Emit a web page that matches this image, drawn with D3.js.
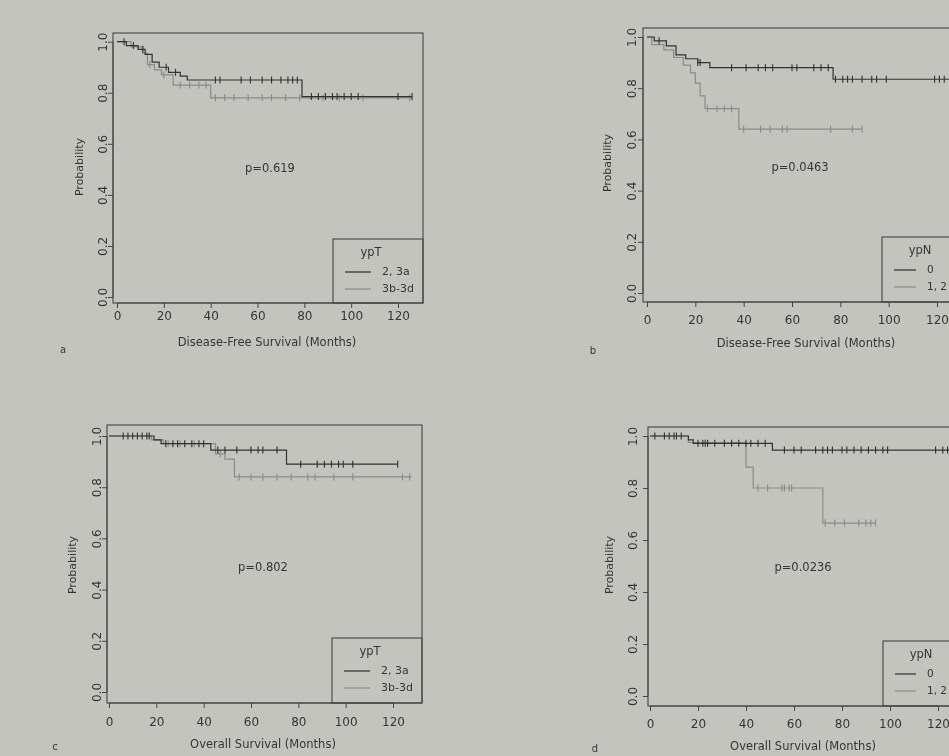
<!DOCTYPE html>
<html><head><meta charset="utf-8">
<script src="https://cdn.jsdelivr.net/npm/d3@7"></script>
<style>
html,body{margin:0;padding:0;background:#c4c4be;}
svg{display:block;}
text{font-family:"DejaVu Sans","Liberation Sans",Arial,sans-serif;fill:#353535;}
</style></head>
<body>
<svg id="chart" width="949" height="756"></svg>
<script>
// ---------- data ----------
const xTicks = [0, 20, 40, 60, 80, 100, 120];
const yTicks = [0, 0.2, 0.4, 0.6, 0.8, 1.0];
const panelLetters = ["a", "b", "c", "d"];
const xTitles = ["Disease-Free Survival (Months)", "Disease-Free Survival (Months)",
                 "Overall Survival (Months)", "Overall Survival (Months)"];
const yTitle = "Probability";
const pValues = ["p=0.619", "p=0.0463", "p=0.802", "p=0.0236"];
const legendTitles = ["ypT", "ypN", "ypT", "ypN"];
const ypTGroups = ["2, 3a", "3b-3d"];
const ypNGroups = ["0", "1, 2"];

// panel a (DFS by ypT)
const aG1Times = [0, 4, 9, 12, 15, 18, 22, 27, 30, 79];
const aG1Surv  = [1, 0.985, 0.97, 0.95, 0.92, 0.90, 0.88, 0.865, 0.85, 0.785];
const aG1End = 126;
const aG1Censor = [3, 7, 11, 21, 25, 42, 44, 53, 57, 62, 66, 70, 73, 75, 77, 83, 86, 89, 92, 94, 97, 100, 103, 120, 126];
const aG2Times = [0, 6, 11, 13, 16, 19, 24, 40];
const aG2Surv  = [1, 0.98, 0.955, 0.91, 0.89, 0.87, 0.83, 0.78];
const aG2End = 126;
const aG2Censor = [14, 20, 27, 31, 35, 38, 42, 46, 50, 56, 62, 66, 72, 78, 88, 95, 105, 125];

// panel b (DFS by ypN)
const bG1Times = [0, 3, 8, 12, 16, 21, 26, 77];
const bG1Surv  = [1, 0.985, 0.965, 0.93, 0.915, 0.90, 0.88, 0.835];
const bG1End = 132;
const bG1Censor = [5, 21, 22, 35, 41, 46, 49, 52, 60, 62, 69, 72, 75, 78, 81, 83, 85, 89, 93, 95, 99, 119, 121, 123];
const bG2Times = [0, 2, 7, 11, 15, 18, 20, 22, 24, 38];
const bG2Surv  = [1, 0.97, 0.95, 0.92, 0.89, 0.86, 0.82, 0.77, 0.72, 0.64];
const bG2End = 89;
const bG2Censor = [25, 29, 32, 35, 40, 47, 51, 56, 58, 76, 85, 89];

// panel c (OS by ypT)
const cG1Times = [0, 19, 22, 43, 75];
const cG1Surv  = [1, 0.985, 0.97, 0.945, 0.89];
const cG1End = 122;
const cG1Censor = [6, 8, 10, 12, 14, 16, 17, 24, 27, 29, 32, 35, 38, 40, 46, 49, 54, 60, 63, 65, 71, 81, 88, 91, 94, 97, 99, 103, 122];
const cG2Times = [0, 18, 23, 45, 49, 53];
const cG2Surv  = [1, 0.985, 0.97, 0.93, 0.91, 0.84];
const cG2End = 128;
const cG2Censor = [25, 30, 36, 47, 55, 60, 65, 71, 77, 84, 87, 95, 103, 124, 127];

// panel d (OS by ypN)
const dG1Times = [0, 16, 18, 51];
const dG1Surv  = [1, 0.985, 0.972, 0.946];
const dG1End = 132;
const dG1Censor = [2, 6, 8, 10, 11, 13, 20, 22, 23, 24, 27, 31, 34, 37, 40, 42, 45, 48, 56, 60, 63, 69, 72, 74, 76, 80, 82, 85, 88, 91, 94, 97, 99, 119, 122, 124];
const dG2Times = [0, 16, 40, 43, 72];
const dG2Surv  = [1, 0.975, 0.88, 0.80, 0.665];
const dG2End = 94;
const dG2Censor = [45, 49, 55, 56, 58, 59, 73, 77, 81, 87, 90, 92, 94];

const panelSeries = [
  [{t: aG1Times, s: aG1Surv, end: aG1End, c: aG1Censor}, {t: aG2Times, s: aG2Surv, end: aG2End, c: aG2Censor}],
  [{t: bG1Times, s: bG1Surv, end: bG1End, c: bG1Censor}, {t: bG2Times, s: bG2Surv, end: bG2End, c: bG2Censor}],
  [{t: cG1Times, s: cG1Surv, end: cG1End, c: cG1Censor}, {t: cG2Times, s: cG2Surv, end: cG2End, c: cG2Censor}],
  [{t: dG1Times, s: dG1Surv, end: dG1End, c: dG1Censor}, {t: dG2Times, s: dG2Surv, end: dG2End, c: dG2Censor}]
];
const panelGroups = [ypTGroups, ypNGroups, ypTGroups, ypNGroups];

// ---------- layout ----------
const layouts = [
  {xr: [117, 398], yr: [297, 41.7], frame: [113, 33, 423, 303], ytl: 103, xtl: 316, ylab: 80, ylabY: 167, xlabX: 267, xlabY: 342, letter: [63, 350], p: [270, 168], leg: [333, 239, 423], legTx: 49, legFs: 11},
  {xr: [647, 937], yr: [293, 37], frame: [643, 28, 970, 302], ytl: 632, xtl: 320, ylab: 608, ylabY: 163, xlabX: 806, xlabY: 343, letter: [593, 351], p: [800, 167], leg: [882, 237, 970], legTx: 45, legFs: 10.5},
  {xr: [109, 393], yr: [692, 436], frame: [107, 425, 422, 703], ytl: 97, xtl: 722, ylab: 73, ylabY: 565, xlabX: 263, xlabY: 744, letter: [55, 747], p: [263, 567], leg: [332, 638, 422], legTx: 49, legFs: 11},
  {xr: [650, 938], yr: [696, 436], frame: [648, 427, 970, 706], ytl: 633, xtl: 724, ylab: 610, ylabY: 565, xlabX: 803, xlabY: 746, letter: [595, 749], p: [803, 567], leg: [883, 641, 970], legTx: 44, legFs: 10.5}
];
const lineColors = ["#303030", "#8a8a88"];
const fsTick = 12, fsText = 11.5;

const svg = d3.select("#chart");
svg.append("defs").append("filter").attr("id", "soft")
  .append("feGaussianBlur").attr("stdDeviation", 0.55);
const root = svg.append("g").attr("filter", "url(#soft)");

function survAt(ser, t) {
  const i = d3.bisectRight(ser.t, t) - 1;
  return ser.s[Math.max(0, i)];
}

layouts.forEach((L, pi) => {
  const g = root.append("g");
  const x = d3.scaleLinear().domain([0, 120]).range(L.xr);
  const y = d3.scaleLinear().domain([0, 1]).range(L.yr);
  const [fl, ft, fr, fb] = L.frame;

  // frame
  g.append("rect").attr("x", fl).attr("y", ft).attr("width", fr - fl).attr("height", fb - ft)
    .attr("fill", "none").attr("stroke", "#454545").attr("stroke-width", 1.1);

  // y axis
  const ya = g.append("g").attr("transform", `translate(${fl},0)`)
    .call(d3.axisLeft(y).tickValues(yTicks).tickSize(5).tickFormat(d3.format(".1f")));
  ya.attr("font-family", null).attr("font-size", null);
  ya.select(".domain").attr("d", `M-0,${y(0)}V${y(1)}`).attr("stroke", "#454545");
  ya.selectAll(".tick line").attr("stroke", "#454545");
  ya.selectAll(".tick text").attr("x", 0).attr("dy", 0)
    .attr("transform", `translate(${L.ytl - fl},0) rotate(-90)`)
    .attr("text-anchor", "middle").attr("dominant-baseline", "middle")
    .style("font-size", fsTick + "px").style("fill", "#353535");

  // x axis
  const xa = g.append("g").attr("transform", `translate(0,${fb})`)
    .call(d3.axisBottom(x).tickValues(xTicks).tickSize(5).tickFormat(d3.format("d")));
  xa.attr("font-family", null).attr("font-size", null);
  xa.select(".domain").attr("d", `M${x(0)},0H${x(120)}`).attr("stroke", "#454545");
  xa.selectAll(".tick line").attr("stroke", "#454545");
  xa.selectAll(".tick text").attr("y", L.xtl - fb).attr("dy", 0)
    .attr("dominant-baseline", "middle")
    .style("font-size", fsTick + "px").style("fill", "#353535");

  // axis titles
  g.append("text").attr("transform", `translate(${L.ylab},${L.ylabY}) rotate(-90)`)
    .attr("text-anchor", "middle").attr("dominant-baseline", "middle")
    .style("font-size", (fsText - 0.5) + "px").text(yTitle);
  g.append("text").attr("x", L.xlabX).attr("y", L.xlabY)
    .attr("text-anchor", "middle").attr("dominant-baseline", "middle")
    .style("font-size", fsText + "px").text(xTitles[pi]);
  g.append("text").attr("x", L.letter[0]).attr("y", L.letter[1])
    .attr("text-anchor", "middle").attr("dominant-baseline", "middle")
    .style("font-size", "10px").text(panelLetters[pi]);

  // p value
  g.append("text").attr("x", L.p[0]).attr("y", L.p[1])
    .attr("text-anchor", "middle").attr("dominant-baseline", "middle")
    .style("font-size", fsText + "px").text(pValues[pi]);

  // curves (grey first, black on top)
  const line = d3.line().x(d => x(d[0])).y(d => y(d[1])).curve(d3.curveStepAfter);
  [1, 0].forEach(si => {
    const ser = panelSeries[pi][si];
    const pts = ser.t.map((t, i) => [t, ser.s[i]]);
    pts.push([ser.end, ser.s[ser.s.length - 1]]);
    g.append("path").attr("d", line(pts)).attr("fill", "none")
      .attr("stroke", lineColors[si]).attr("stroke-width", 1.2);
    g.selectAll(null).data(ser.c).enter().append("line")
      .attr("x1", d => x(d)).attr("x2", d => x(d))
      .attr("y1", d => y(survAt(ser, d)) - 3.5).attr("y2", d => y(survAt(ser, d)) + 3.5)
      .attr("stroke", lineColors[si]).attr("stroke-width", 1.1);
  });

  // legend
  const [lx, ly, lr] = L.leg;
  g.append("rect").attr("x", lx).attr("y", ly).attr("width", lr - lx).attr("height", fb - ly)
    .attr("fill", "none").attr("stroke", "#454545").attr("stroke-width", 1.1);
  g.append("text").attr("x", lx + 38).attr("y", ly + 13)
    .attr("text-anchor", "middle").attr("dominant-baseline", "middle")
    .style("font-size", fsText + "px").text(legendTitles[pi]);
  panelGroups[pi].forEach((lab, k) => {
    const yy = ly + 33 + k * 17;
    g.append("line").attr("x1", lx + 12).attr("x2", lx + L.legTx - 11).attr("y1", yy).attr("y2", yy)
      .attr("stroke", lineColors[k]).attr("stroke-width", 1.2);
    g.append("text").attr("x", lx + L.legTx).attr("y", yy).attr("dominant-baseline", "middle")
      .style("font-size", L.legFs + "px").text(lab);
  });
});
</script>
</body></html>
